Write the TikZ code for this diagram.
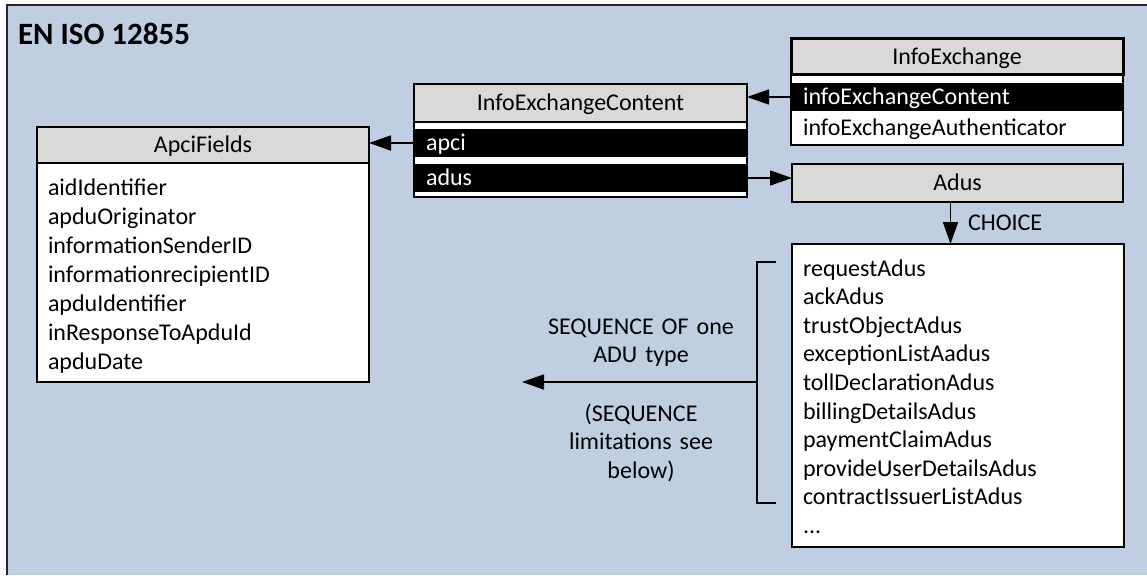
\documentclass[tikz,border=0pt]{standalone}
\usepackage{fontspec}
\setmainfont{Carlito}
\usetikzlibrary{arrows.meta}
\definecolor{fieldblue}{RGB}{191,206,224}
\definecolor{headgray}{RGB}{217,217,217}
\begin{document}
\begin{tikzpicture}[x=1pt,y=-1pt,
  every node/.style={inner sep=0pt, outer sep=0pt},
  txt/.style={font=\fontsize{24}{29}\selectfont},
  box/.style={draw, line width=1.6pt, anchor=north west},
  head/.style={box, fill=headgray, txt, text height=15.5pt, text depth=0pt},
  body/.style={box, fill=white},
  field/.style={anchor=north west, fill=black, text=white, txt, align=left,
    inner xsep=12pt, text height=15.5pt, text depth=0pt},
  plainrow/.style={anchor=north west, txt, align=left,
    inner xsep=12pt, text height=15.5pt, text depth=0pt},
  list/.style={anchor=base west, align=left, text width=300pt},
  conn/.style={line width=1.6pt, -{Triangle[length=22pt,width=15pt]}},
]
\useasboundingbox (0,0) rectangle (1147,575);

% module frame
\fill[fieldblue] (7,5) rectangle (1147,575);
\draw[line width=1.8pt, black!85] (1147,5) -- (7,5) -- (7,575);
\node[anchor=base west, font=\fontsize{31}{36}\selectfont\bfseries] (title) at (18,45) {EN ISO 12855};

% ApciFields
\node[head, minimum width=332pt, minimum height=36pt] (apcih) at (37,127) {ApciFields};
\node[body, minimum width=332pt, minimum height=219pt] (apcib) at (37,163) {};
\node[list, font=\fontsize{24}{29}\selectfont] (apcilist) at (48,195)
  {aidIdentifier\\apduOriginator\\informationSenderID\\informationrecipientID\\apduIdentifier\\inResponseToApduId\\apduDate};

% InfoExchangeContent
\node[head, minimum width=333pt, minimum height=38pt] (iech) at (414,84) {InfoExchangeContent};
\node[body, minimum width=333pt, minimum height=75pt] (iecb) at (414,122) {};
\node[field, text width=309pt, minimum height=28pt] (apci) at (414,129) {apci};
\node[field, text width=309pt, minimum height=28pt] (adus) at (414,164) {adus};

% InfoExchange
\node[head, line width=3pt, minimum width=332pt, minimum height=36pt] (ieh) at (791,39) {InfoExchange};
\node[body, minimum width=332pt, minimum height=70pt] (ieb) at (791,75) {};
\node[field, text width=308pt, minimum height=28pt] (iecrow) at (791,83) {infoExchangeContent};
\node[plainrow, text width=308pt, minimum height=34pt] (authrow) at (791,111) {infoExchangeAuthenticator};

% Adus
\node[head, minimum width=331pt, minimum height=38pt] (adush) at (792,164) {Adus};
\node[body, minimum width=332pt, minimum height=303pt] (adusb) at (792,244) {};
\node[list, font=\fontsize{24}{28.6}\selectfont] (aduslist) at (803,276)
  {requestAdus\\ackAdus\\trustObjectAdus\\exceptionListAadus\\tollDeclarationAdus\\billingDetailsAdus\\paymentClaimAdus\\provideUserDetailsAdus\\contractIssuerListAdus\\...};

% connectors
\draw[conn] (apci.west) -- (apci.west -| apcih.east);
\draw[conn] (iecrow.west) -- (iecrow.west -| iech.east);
\draw[conn] (adus.east) -- (adus.east -| adush.west);
\draw[conn] ([xshift=-7pt]adush.south) -- ([xshift=-7pt]adush.south |- adusb.north);
\node[anchor=west, txt, text height=15.5pt, text depth=0pt] (choice) at (968,223) {CHOICE};

% SEQUENCE OF bracket
\coordinate (brtop) at (776,262);
\coordinate (brbot) at (776,503);
\coordinate (brmid) at (757,382);
\coordinate (seqend) at (522,382);
\draw[line width=1.6pt] (brtop) -- (brtop -| brmid) -- (brbot -| brmid) -- (brbot);
\draw[conn] (brmid) -- (seqend);
\node[anchor=base, align=center, text width=220pt, font=\fontsize{24}{28}\selectfont] (seqa) at (641,334)
  {SEQUENCE OF one\\ADU type};
\node[anchor=base, align=center, text width=220pt, font=\fontsize{24}{28.5}\selectfont] (seqb) at (641,421)
  {(SEQUENCE\\limitations see\\below)};
\end{tikzpicture}
\end{document}
